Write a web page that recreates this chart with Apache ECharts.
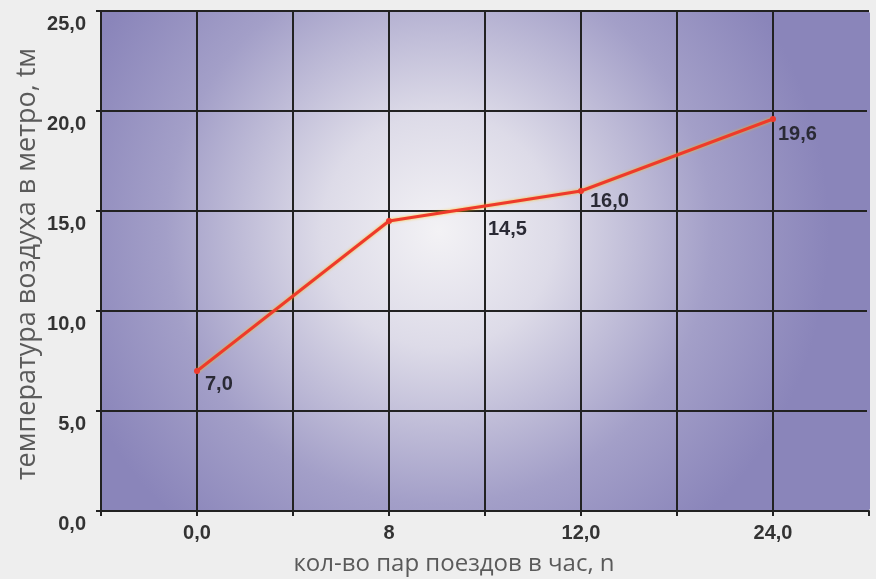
<!DOCTYPE html>
<html><head><meta charset="utf-8">
<script src="https://cdn.jsdelivr.net/npm/echarts@6/dist/echarts.min.js"></script>
<style>html,body{margin:0;padding:0;background:#eeeeee;}#c{width:876px;height:579px;}</style>
</head><body><div id="c"></div>
<script>
const categories = ['0,0', '8', '12,0', '24,0'];
const temps = [7.0, 14.5, 16.0, 19.6];
const yTicks = [0, 5, 10, 15, 20, 25];
const xTitle = 'кол-во пар поездов в час, n';
const yTitle = 'температура воздуха в метро, tм';

const fmt = v => v.toFixed(1).replace('.', ',');
const labelOffsets = [[0, 13], [91, 8], [1, 10], [-3, 15]];

const chart = echarts.init(document.getElementById('c'));
chart.setOption({
  backgroundColor: '#eeeeee',
  animation: false,
  grid: {
    left: 101, right: 7, top: 11, bottom: 68, show: true, borderWidth: 0,
    backgroundColor: {
      type: 'radial', x: 0.44, y: 0.44, r: 0.78,
      colorStops: [
        { offset: 0, color: '#f3f2f5' },
        { offset: 0.3, color: '#dddbe8' },
        { offset: 0.7, color: '#a39fc8' },
        { offset: 1, color: '#8a85ba' }
      ]
    }
  },
  graphic: [
    { type: 'text', x: 454, y: 564, style: { text: xTitle, align: 'center', verticalAlign: 'middle', font: '24px "Open Sans"', fill: '#5a5a5a' } },
    { type: 'text', x: 27, y: 264, rotation: Math.PI / 2, style: { text: yTitle, align: 'center', verticalAlign: 'middle', font: '27px "Open Sans"', fill: '#5a5a5a' } },
    { type: 'rect', z: 100, shape: { x: 867, y: 12.5, width: 3, height: 497 }, style: { fill: '#8a85ba' } }
  ],
  xAxis: {
    type: 'value', min: 0, max: 2 * categories.length, interval: 1,
    axisLine: { show: true, lineStyle: { color: '#222', width: 2 } },
    axisTick: { show: true, length: 5, lineStyle: { color: '#222', width: 2 } },
    splitLine: { show: true, showMaxLine: false, lineStyle: { color: '#222', width: 2 } },
    axisLabel: {
      interval: 0, margin: 12, fontFamily: 'Liberation Sans', fontSize: 20, fontWeight: 'bold', color: '#333',
      showMinLabel: true, showMaxLabel: true,
      formatter: v => (v % 2 === 1 ? categories[(v - 1) / 2] : '')
    }
  },
  yAxis: {
    type: 'value', min: yTicks[0], max: yTicks[yTicks.length - 1], interval: 5,
    axisLine: { show: true, lineStyle: { color: '#222', width: 2 } },
    axisTick: { show: true, length: 5, lineStyle: { color: '#222', width: 2 } },
    splitLine: { show: true, lineStyle: { color: '#222', width: 2 } },
    axisLabel: {
      margin: 15, fontFamily: 'Liberation Sans', fontSize: 20, fontWeight: 'bold', color: '#333',
      verticalAlign: 'top', padding: [3, 0, 0, 0],
      formatter: v => fmt(v)
    }
  },
  series: [{
    type: 'line',
    data: temps.map((v, i) => ({
      value: [2 * i + 1, v],
      label: { offset: labelOffsets[i] }
    })),
    symbol: 'circle', symbolSize: 6,
    itemStyle: { color: '#ee3a2c' },
    lineStyle: { color: '#ee3a2c', width: 3, shadowColor: 'rgba(255,190,0,0.8)', shadowBlur: 3 },
    label: {
      show: true, position: 'right', align: 'left', verticalAlign: 'middle',
      fontFamily: 'Liberation Sans', fontSize: 20, fontWeight: 'bold', color: '#2a2a35',
      formatter: p => fmt(p.value[1])
    }
  }]
});
</script></body></html>
